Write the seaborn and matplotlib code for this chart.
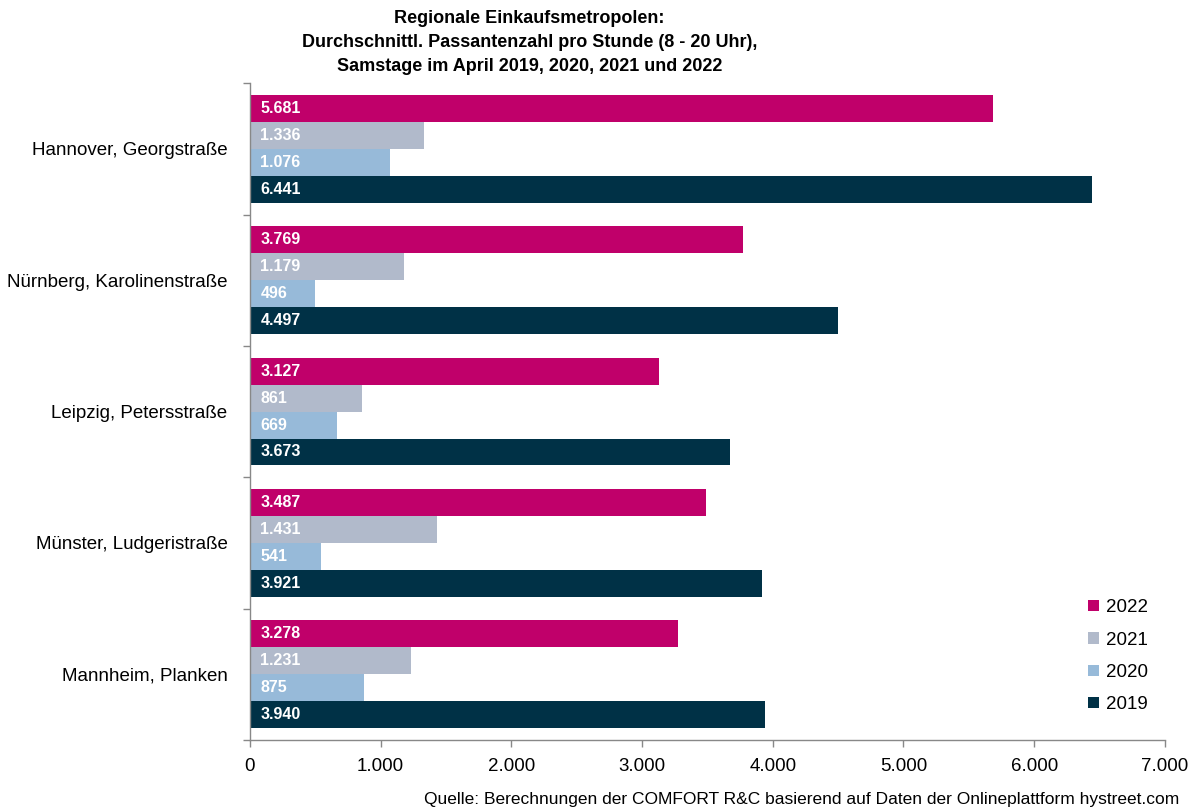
import matplotlib
matplotlib.use("Agg")
import matplotlib.pyplot as plt
import seaborn as sns
import pandas as pd
from matplotlib.ticker import FuncFormatter, FixedLocator, NullFormatter

cities = ["Hannover, Georgstraße", "Nürnberg, Karolinenstraße", "Leipzig, Petersstraße",
          "Münster, Ludgeristraße", "Mannheim, Planken"]
years = ["2022", "2021", "2020", "2019"]
v2022 = [5681, 3769, 3127, 3487, 3278]
v2021 = [1336, 1179, 861, 1431, 1231]
v2020 = [1076, 496, 669, 541, 875]
v2019 = [6441, 4497, 3673, 3921, 3940]
colors = ["#C0006A", "#B1BACB", "#97BAD9", "#003146"]

title = ("Regionale Einkaufsmetropolen:\n"
         "Durchschnittl. Passantenzahl pro Stunde (8 - 20 Uhr),\n"
         "Samstage im April 2019, 2020, 2021 und 2022")
source = "Quelle: Berechnungen der COMFORT R&C basierend auf Daten der Onlineplattform hystreet.com"

rows = []
for y, vals in zip(years, [v2022, v2021, v2020, v2019]):
    for c, v in zip(cities, vals):
        rows.append({"city": c, "year": y, "value": v})
df = pd.DataFrame(rows)

sns.set_style("white")
plt.rcParams["font.family"] = ["Liberation Sans", "DejaVu Sans"]
plt.rcParams["text.color"] = "black"
plt.rcParams["xtick.color"] = "black"
plt.rcParams["ytick.color"] = "black"

fig = plt.figure(figsize=(12.01, 8.07), dpi=100)
ax = fig.add_axes([0.208, 0.083, 0.762, 0.814])

sns.barplot(data=df, y="city", x="value", hue="year", order=cities, hue_order=years,
            palette=colors, orient="h", width=0.82, saturation=1, ax=ax,
            edgecolor="none", linewidth=0)

def de_fmt(v):
    return f"{int(round(v)):,}".replace(",", ".")

for cont in ax.containers:
    for bar in cont:
        w = bar.get_width()
        ax.text(80, bar.get_y() + bar.get_height() / 2, de_fmt(w), color="white",
                fontsize=11.5, fontweight="bold", va="center", ha="left")

ax.set_xlim(0, 7000)
ax.set_ylim(4.5, -0.5)
ax.xaxis.set_major_locator(FixedLocator(range(0, 7001, 1000)))
ax.xaxis.set_major_formatter(FuncFormatter(lambda v, p: de_fmt(v)))
ax.set_yticks(range(len(cities)))
ax.set_yticklabels(cities)
ax.yaxis.set_minor_locator(FixedLocator([i - 0.5 for i in range(len(cities) + 1)]))
ax.yaxis.set_minor_formatter(NullFormatter())
ax.tick_params(axis="y", which="major", length=0, labelsize=13.5, pad=16, labelcolor="black")
ax.tick_params(axis="y", which="minor", length=5, width=1, color="#888888", direction="out", left=True)
ax.tick_params(axis="x", which="major", length=5, width=1, color="#888888", direction="out",
               bottom=True, labelsize=13.5, pad=8, labelcolor="black")
ax.set_xlabel("")
ax.set_ylabel("")
for s in ["top", "right"]:
    ax.spines[s].set_visible(False)
for s in ["left", "bottom"]:
    ax.spines[s].set_color("#888888")
    ax.spines[s].set_linewidth(1)

leg = ax.legend(loc="lower right", bbox_to_anchor=(1.0, 0.015), frameon=False, fontsize=13.5,
                handlelength=0.55, handleheight=0.55, handletextpad=0.4, labelspacing=0.82)
for t in leg.get_texts():
    t.set_color("black")

fig.text(0.441, 0.988, title, ha="center", va="top", fontsize=13, fontweight="bold",
         linespacing=1.55)
fig.text(0.982, 0.009, source, ha="right", va="center", fontsize=12.5)

fig.savefig("out.png", dpi=100)
